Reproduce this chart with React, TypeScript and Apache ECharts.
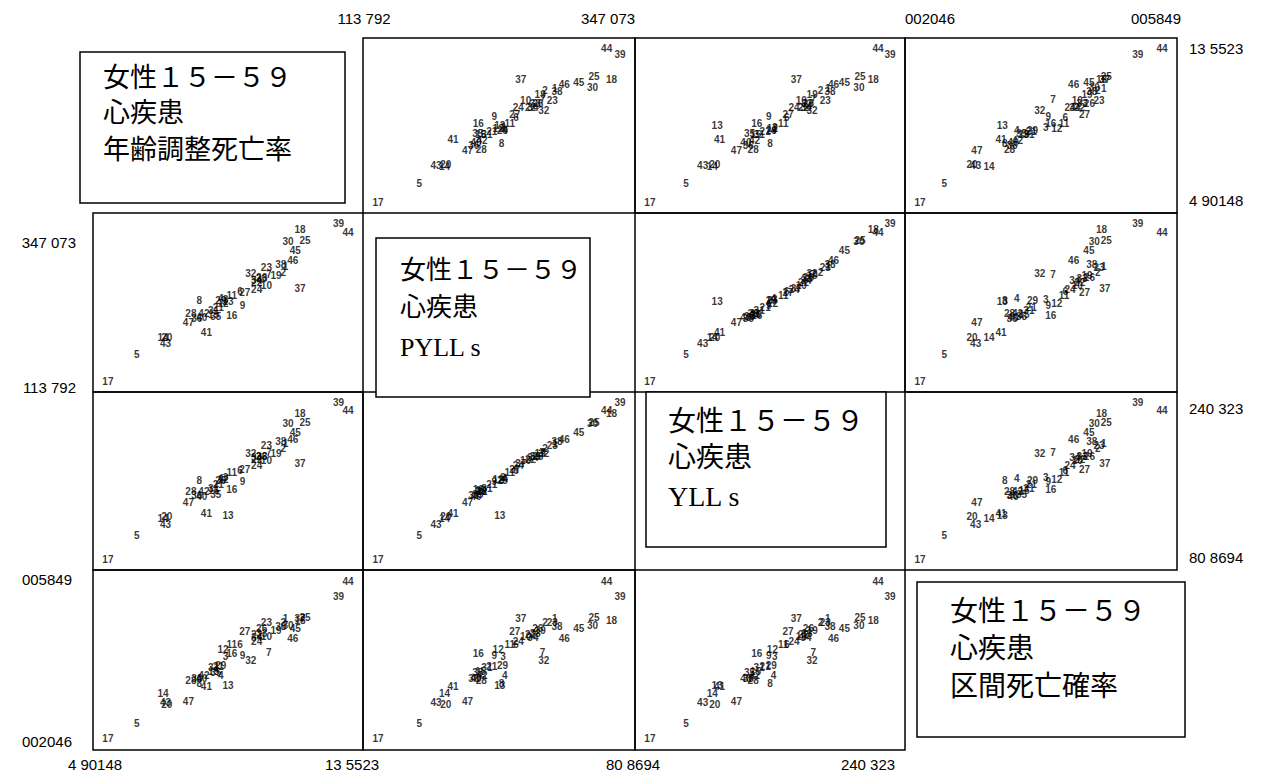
import React, { useEffect, useRef } from "react";
import * as echarts from "echarts";

// Prefecture codes 1..47 used as point labels
const prefCodes = [
  "1", "2", "3", "4", "5", "6", "7", "8", "9", "10",
  "11", "12", "13", "14", "15", "16", "17", "18", "19", "20",
  "21", "22", "23", "24", "25", "26", "27", "28", "29", "30",
  "31", "32", "33", "34", "35", "36", "37", "38", "39", "40",
  "41", "42", "43", "44", "45", "46", "47",
];

// 年齢調整死亡率
const ageAdjRate = [
  11.30, 11.22, 9.14, 8.97, 5.94, 9.66, 10.70, 8.19, 9.75, 10.61,
  9.36, 9.05, 9.23, 6.89, 8.71, 9.36, 4.90148, 11.82, 10.96, 7.02,
  8.88, 10.26, 10.61, 10.26, 12.00, 10.44, 9.83, 7.89, 8.97, 11.39,
  8.71, 10.05, 10.44, 10.26, 8.79, 8.10, 11.82, 11.13, 13.21, 8.28,
  8.45, 8.36, 6.98, 13.5523, 11.65, 11.56, 7.80,
];

// PYLLs
const pyll = [
  284.1, 274.8, 234.2, 236.0, 153.5, 246.8, 272.4, 232.8, 225.8, 256.1,
  240.9, 229.6, 231.2, 177.9, 212.6, 210.5, 113.792, 338.9, 270.1, 179.1,
  223.4, 260.8, 281.8, 249.1, 322.1, 267.8, 245.6, 213.4, 233.9, 320.6,
  218.8, 273.6, 265.4, 263.1, 209.9, 206.2, 251.4, 286.4, 347.073, 208.3,
  186.1, 214.1, 169.8, 334.2, 307.4, 293.4, 200.1,
];

// YLLs
const yll = [
  198.9, 194.1, 163.8, 163.0, 104.8, 171.8, 189.3, 160.6, 159.8, 181.3,
  169.4, 162.2, 125.5, 122.3, 151.0, 151.8, 80.8694, 229.2, 188.6, 123.9,
  157.4, 182.9, 197.3, 176.5, 220.4, 186.1, 172.6, 149.4, 161.4, 219.6,
  153.4, 188.5, 185.2, 184.5, 147.0, 146.2, 178.1, 200.5, 240.323, 144.6,
  127.1, 150.3, 115.9, 232.3, 210.0, 202.8, 138.3,
];

// 区間死亡確率
const deathProb = [
  0.004936, 0.004841, 0.004024, 0.003567, 0.002426, 0.004328, 0.004138, 0.003377, 0.004062, 0.004518,
  0.004310, 0.004195, 0.003339, 0.003130, 0.003681, 0.004100, 0.002046, 0.004898, 0.004670, 0.002864,
  0.003795, 0.004556, 0.004860, 0.004404, 0.004974, 0.004708, 0.004632, 0.003453, 0.003814, 0.004784,
  0.003757, 0.003928, 0.004594, 0.004480, 0.003643, 0.003491, 0.004950, 0.004746, 0.005469, 0.003510,
  0.003320, 0.003580, 0.002921, 0.005849, 0.004700, 0.004461, 0.002940,
];

// Range labels for each variable (min / max)
const minLabels = ["4 90148", "113 792", "80 8694", "002046"];
const maxLabels = ["13 5523", "347 073", "240 323", "005849"];

// Diagonal titles
const titleLines = [
  ["女性１５－５９", "心疾患", "年齢調整死亡率"],
  ["女性１５－５９", "心疾患", "PYLL s"],
  ["女性１５－５９", "心疾患", "YLL s"],
  ["女性１５－５９", "心疾患", "区間死亡確率"],
];

const variables = [ageAdjRate, pyll, yll, deathProb];

// Layout of the 4x4 matrix
const colEdges = [93, 363, 635, 905, 1177];
const rowEdges = [38, 213, 392, 570, 750];
const PAD_X = 0.062;
const PAD_Y = 0.07;

const titleBoxes = [
  { x: 80, y: 52, w: 265, h: 151, tx: 103, ty: [78, 113, 150], size: 27 },
  { x: 376, y: 238, w: 214, h: 159, tx: 400, ty: [270, 307, 347], size: 26 },
  { x: 646, y: 392, w: 240, h: 155, tx: 668, ty: [421, 457, 496], size: 28 },
  { x: 917, y: 582, w: 268, h: 155, tx: 950, ty: [611, 648, 686], size: 28 },
];

const LABEL_FONT = "'Liberation Sans', Arial, sans-serif";
const TITLE_FONT = "'Liberation Serif', 'Noto Sans CJK JP', serif";

function range(v: number[]) {
  const lo = Math.min(...v);
  const hi = Math.max(...v);
  return { lo, hi, span: hi - lo };
}

function buildOption() {
  const grids: any[] = [];
  const xAxes: any[] = [];
  const yAxes: any[] = [];
  const series: any[] = [];

  let gi = 0;
  for (let r = 0; r < 4; r++) {
    for (let c = 0; c < 4; c++) {
      if (r === c) continue;
      grids.push({
        left: colEdges[c],
        top: rowEdges[r],
        width: colEdges[c + 1] - colEdges[c],
        height: rowEdges[r + 1] - rowEdges[r],
        show: true,
        borderColor: "#000",
        borderWidth: 1.5,
        backgroundColor: "transparent",
      });
      const xr = range(variables[c]);
      const yr = range(variables[r]);
      xAxes.push({
        type: "value",
        gridIndex: gi,
        min: xr.lo - PAD_X * xr.span,
        max: xr.hi + PAD_X * xr.span,
        show: false,
      });
      yAxes.push({
        type: "value",
        gridIndex: gi,
        min: yr.lo - PAD_Y * yr.span,
        max: yr.hi + PAD_Y * yr.span,
        show: false,
      });
      series.push({
        type: "scatter",
        xAxisIndex: gi,
        yAxisIndex: gi,
        symbolSize: 0,
        silent: true,
        data: prefCodes.map((name, i) => ({
          name,
          value: [variables[c][i], variables[r][i]],
        })),
        label: {
          show: true,
          position: "inside",
          formatter: "{b}",
          color: "#000",
          fontSize: 10,
          fontWeight: "bold",
          fontFamily: LABEL_FONT,
        },
      });
      gi++;
    }
  }

  const graphic: any[] = [];
  const tick = (text: string, x: number, y: number, align: string) =>
    graphic.push({
      type: "text",
      x,
      y,
      style: {
        text,
        fill: "#000",
        font: `15px ${LABEL_FONT}`,
        textAlign: align,
        textVerticalAlign: "middle",
      },
    });

  // top: columns 2 and 4
  tick(minLabels[1], 364, 18, "center");
  tick(maxLabels[1], 608, 18, "center");
  tick(minLabels[3], 930, 18, "center");
  tick(maxLabels[3], 1156, 18, "center");
  // bottom: columns 1 and 3
  tick(minLabels[0], 95, 764, "center");
  tick(maxLabels[0], 352, 764, "center");
  tick(minLabels[2], 633, 764, "center");
  tick(maxLabels[2], 868, 764, "center");
  // left: rows 2 and 4
  tick(maxLabels[1], 76, 242, "right");
  tick(minLabels[1], 76, 387, "right");
  tick(maxLabels[3], 72, 579, "right");
  tick(minLabels[3], 72, 741, "right");
  // right: rows 1 and 3
  tick(maxLabels[0], 1189, 48, "left");
  tick(minLabels[0], 1189, 200, "left");
  tick(maxLabels[2], 1189, 408, "left");
  tick(minLabels[2], 1189, 557, "left");

  titleBoxes.forEach((b, k) => {
    graphic.push({
      type: "rect",
      shape: { x: b.x, y: b.y, width: b.w, height: b.h },
      style: { fill: "#fff", stroke: "#000", lineWidth: 1.5 },
      z: 10,
    });
    titleLines[k].forEach((line, j) => {
      graphic.push({
        type: "text",
        x: b.tx,
        y: b.ty[j],
        z: 11,
        style: {
          text: line,
          fill: "#000",
          font: `${b.size}px ${TITLE_FONT}`,
          textAlign: "left",
          textVerticalAlign: "middle",
        },
      });
    });
  });

  return {
    animation: false,
    backgroundColor: "#fff",
    grid: grids,
    xAxis: xAxes,
    yAxis: yAxes,
    series,
    graphic,
  };
}

export default function App() {
  const ref = useRef<HTMLDivElement>(null);
  useEffect(() => {
    const chart = echarts.init(ref.current!, null, { renderer: "svg" });
    chart.setOption(buildOption());
    return () => chart.dispose();
  }, []);
  return (
    <div
      ref={ref}
      style={{ position: "fixed", left: 0, top: 0, width: 1270, height: 776, background: "#fff" }}
    />
  );
}
